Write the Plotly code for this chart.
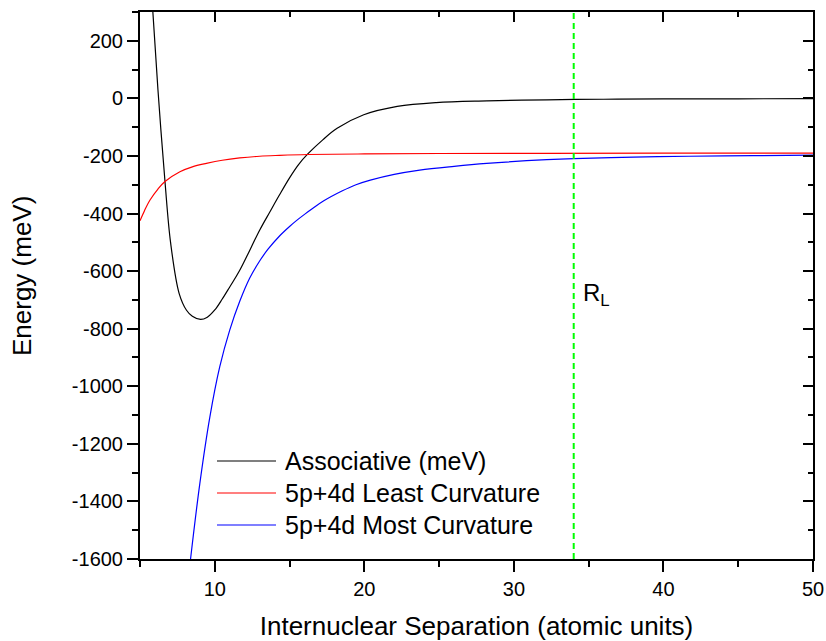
import plotly.graph_objects as go

# Potential energy curves vs internuclear separation (atomic units, meV)
assoc_r = [5.86, 6.2, 6.67, 7.05, 7.62, 8.11, 8.5, 9.05, 9.5, 10.0, 10.5, 11.0, 11.67,
           13.0, 13.7, 14.33, 15.0, 15.6, 16.22, 17.22, 18.18, 19.96, 22.2, 24.8, 28.2,
           32.2, 36.0, 40.0, 45.0, 50.0]
assoc_e = [300, 30, -289, -503, -678, -736, -757, -768, -760, -735, -697, -655, -597,
           -458, -393, -335, -276, -230, -193, -144, -104, -57, -28, -14.5, -8.7,
           -5, -3, -2, -1.5, -1]

least_r = [5.0, 5.3, 5.67, 6.2, 6.67, 7.67, 8.5, 9.44, 10.5, 11.67, 13.0, 14.33,
           16.22, 20.0, 25.0, 32.0, 40.0, 50.0]
least_e = [-425, -390, -353, -315, -289, -255, -238, -226, -215, -207, -201, -198,
           -195, -193, -191.5, -191, -190.5, -190]

most_r = [8.38, 9.0, 9.67, 10.33, 11.0, 11.67, 12.33, 13.0, 13.56, 14.33, 15.0, 15.5,
          16.0, 16.56, 17.29, 18.5, 19.44, 20.4, 22.0, 23.7, 26.0, 28.18, 32.2, 34.0,
          38.0, 41.7, 46.0, 50.0]
most_e = [-1600, -1338, -1107, -933, -805, -705, -625, -565, -524, -478, -445, -423,
          -403, -382, -356, -322, -300, -284, -264, -249, -236, -226, -213, -209,
          -204, -201, -199, -197]

series_names = ["Associative (meV)", "5p+4d Least Curvature", "5p+4d Most Curvature"]
series_colors = ["#000000", "#FF0000", "#0000FF"]

R_L = 34.0
X_RANGE = [5, 50]
Y_RANGE = [-1600, 300]
X_TICKS = [10, 20, 30, 40, 50]
X_TICK_TEXT = ["10", "20", "30", "40", "50"]
Y_TICKS = [-1600, -1400, -1200, -1000, -800, -600, -400, -200, 0, 200]
Y_TICK_TEXT = ["-1600", "-1400", "-1200", "-1000", "-800", "-600", "-400", "-200", "0", "200"]

FONT = "Liberation Sans, Arial, sans-serif"

fig = go.Figure()
for (r, e), name, col in zip([(assoc_r, assoc_e), (least_r, least_e), (most_r, most_e)],
                             series_names, series_colors):
    fig.add_trace(go.Scatter(x=r, y=e, mode="lines", name=name, showlegend=False,
                             line=dict(color=col, width=1.2, shape="spline", smoothing=1.0)))

# Vertical marker at R_L
fig.add_trace(go.Scatter(x=[R_L, R_L], y=Y_RANGE, mode="lines", showlegend=False,
                         line=dict(color="#00FF00", width=2, dash="6px,4px")))

# Companion axes on top/right carrying inward ticks
fig.add_trace(go.Scatter(x=[], y=[], xaxis="x2", yaxis="y2", showlegend=False))

axis_common = dict(showline=True, linecolor="black", linewidth=2, showgrid=False,
                   zeroline=False, tickcolor="black", tickwidth=2, automargin=False)

fig.update_layout(
    width=826, height=641,
    margin=dict(l=140, r=13, t=12, b=82),
    paper_bgcolor="white", plot_bgcolor="white",
    showlegend=False,
    font=dict(family=FONT, color="black"),
    xaxis=dict(range=X_RANGE, tickmode="array", tickvals=X_TICKS, ticktext=X_TICK_TEXT,
               ticks="outside", ticklen=11, tickfont=dict(size=20),
               minor=dict(tickmode="linear", tick0=5, dtick=5, ticks="outside",
                          ticklen=6, tickwidth=2, tickcolor="black"),
               title=dict(text="Internuclear Separation (atomic units)",
                          font=dict(size=26), standoff=18),
               **axis_common),
    yaxis=dict(range=Y_RANGE, tickmode="array", tickvals=Y_TICKS, ticktext=Y_TICK_TEXT,
               ticks="outside", ticklen=11, tickfont=dict(size=20),
               minor=dict(tickmode="linear", tick0=0, dtick=100, ticks="outside",
                          ticklen=6, tickwidth=2, tickcolor="black"),
               **axis_common),
    xaxis2=dict(range=X_RANGE, overlaying="x", side="top", anchor="y2",
                tickmode="linear", tick0=10, dtick=10, ticks="inside", ticklen=10,
                showticklabels=False,
                minor=dict(tickmode="linear", tick0=5, dtick=5, ticks="inside",
                           ticklen=5, tickwidth=2, tickcolor="black"),
                **axis_common),
    yaxis2=dict(range=Y_RANGE, overlaying="y", side="right", anchor="x2",
                tickmode="linear", tick0=0, dtick=200, ticks="inside", ticklen=10,
                showticklabels=False,
                minor=dict(tickmode="linear", tick0=0, dtick=100, ticks="inside",
                           ticklen=5, tickwidth=2, tickcolor="black"),
                **axis_common),
)

# Y-axis title
fig.add_annotation(x=-0.1753, y=0.5174, xref="paper", yref="paper", text="Energy (meV)",
                   textangle=-90, showarrow=False, xanchor="center", yanchor="middle",
                   font=dict(size=26, family=FONT, color="black"))

# Label for the R_L marker
fig.add_annotation(x=R_L, y=-680, xref="x", yref="y", text="R<sub>L</sub>",
                   showarrow=False, xanchor="left", yanchor="middle", xshift=7,
                   font=dict(size=24, family=FONT, color="black"))

# Legend key drawn in paper space
key_x0, key_x1, text_x = 0.1144, 0.2021, 0.2125
key_rows = [0.1792, 0.1207, 0.0622]
for name, col, yy in zip(series_names, series_colors, key_rows):
    fig.add_shape(type="line", xref="paper", yref="paper", x0=key_x0, x1=key_x1,
                  y0=yy, y1=yy, line=dict(color=col, width=1.2))
    fig.add_annotation(x=text_x, y=yy, xref="paper", yref="paper", text=name,
                       showarrow=False, xanchor="left", yanchor="middle",
                       font=dict(size=25, family=FONT, color="black"))

fig.write_html("out.html")
